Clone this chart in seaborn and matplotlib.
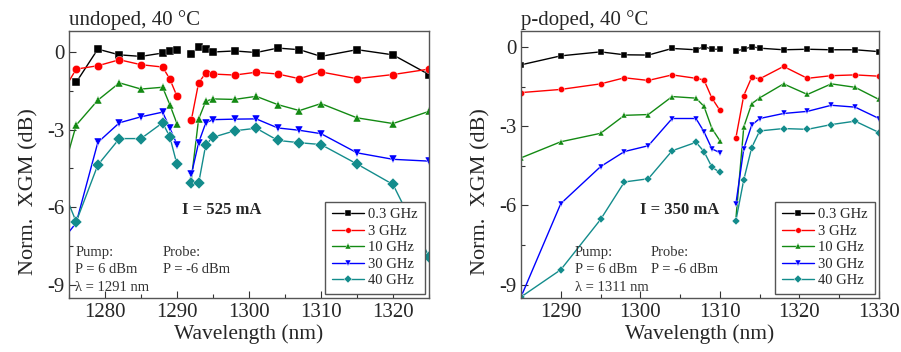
import numpy as np
import pandas as pd
import matplotlib
matplotlib.use("Agg")
import matplotlib.pyplot as plt
import seaborn as sns
from matplotlib.ticker import MultipleLocator

# ---------------- data ----------------
freqs = ["0.3 GHz", "3 GHz", "10 GHz", "30 GHz", "40 GHz"]

# undoped, 40 C  (segment 1 below pump, segment 2 above pump)
u_x1_black = [1276, 1279, 1282, 1285, 1288, 1289, 1290]
u_x1 = [1274, 1276, 1279, 1282, 1285, 1288, 1289, 1290]
u_x2 = [1292, 1293, 1294, 1295, 1298, 1301, 1304, 1307, 1310, 1315, 1320, 1325]
u_black1 = [-1.18, 0.10, -0.12, -0.18, -0.05, 0.04, 0.05]
u_black2 = [-0.08, 0.18, 0.11, -0.01, 0.03, -0.03, 0.14, 0.08, -0.18, 0.08, -0.12, -0.88]
u_red1 = [-1.60, -0.67, -0.54, -0.31, -0.50, -0.59, -1.05, -1.72]
u_red2 = [-2.62, -1.20, -0.82, -0.86, -0.90, -0.79, -0.86, -1.04, -0.78, -1.04, -0.88, -0.67]
u_green1 = [-4.80, -2.83, -1.87, -1.20, -1.44, -1.37, -2.04, -2.78]
u_green2 = [-4.90, -2.60, -1.91, -1.82, -1.84, -1.72, -2.04, -2.27, -2.00, -2.55, -2.77, -2.30]
u_blue1 = [-7.30, -6.60, -3.50, -2.74, -2.51, -2.33, -2.94, -3.58]
u_blue2 = [-4.73, -3.51, -2.74, -2.62, -2.60, -2.59, -2.94, -3.03, -3.16, -3.90, -4.15, -4.22]
u_teal1 = [-5.20, -6.56, -4.37, -3.35, -3.35, -2.74, -3.28, -4.35]
u_teal2 = [-5.08, -5.08, -3.58, -3.30, -3.05, -2.95, -3.42, -3.51, -3.58, -4.33, -5.12, -7.90]

# p-doped, 40 C
p_x1 = [1285, 1290, 1295, 1298, 1301, 1304, 1307, 1308, 1309, 1310]
p_x2 = [1312, 1313, 1314, 1315, 1318, 1321, 1324, 1327, 1330]
p_black1 = [-0.68, -0.34, -0.19, -0.30, -0.31, -0.06, -0.11, 0.01, -0.09, -0.09]
p_black2 = [-0.15, -0.09, 0.01, -0.05, -0.11, -0.09, -0.11, -0.11, -0.18]
p_red1 = [-1.73, -1.61, -1.40, -1.17, -1.27, -1.06, -1.19, -1.25, -1.94, -2.40]
p_red2 = [-3.46, -1.84, -1.15, -1.21, -0.74, -1.19, -1.09, -1.06, -1.11]
p_green1 = [-4.20, -3.59, -3.27, -2.59, -2.56, -1.88, -1.94, -2.25, -3.09, -3.55]
p_green2 = [-6.55, -3.03, -2.15, -1.93, -1.40, -1.80, -1.40, -1.53, -1.99]
p_blue1 = [-9.46, -5.93, -4.53, -3.96, -3.74, -2.71, -2.71, -3.21, -3.86, -4.00]
p_blue2 = [-5.96, -3.86, -2.96, -2.71, -2.52, -2.44, -2.21, -2.28, -2.71]
p_teal1 = [-9.46, -8.43, -6.53, -5.11, -4.99, -3.93, -3.61, -3.96, -4.55, -4.75]
p_teal2 = [-6.59, -5.03, -3.81, -3.18, -3.09, -3.12, -2.94, -2.81, -3.24]

colors = ["#000000", "#ff0000", "#138a13", "#0000ff", "#138c8c"]
markers = ["s", "o", "^", "v", "D"]


def build(series):
    rows = []
    for f, segs in zip(freqs, series):
        for si, (xs, ys) in enumerate(segs):
            for x, y in zip(xs, ys):
                rows.append({"wl": x, "xgm": y, "freq": f, "seg": si})
    return pd.DataFrame(rows)


df_u = build([
    [(u_x1_black, u_black1), (u_x2, u_black2)],
    [(u_x1, u_red1), (u_x2, u_red2)],
    [(u_x1, u_green1), (u_x2, u_green2)],
    [(u_x1, u_blue1), (u_x2, u_blue2)],
    [(u_x1, u_teal1), (u_x2, u_teal2)],
])
df_p = build([
    [(p_x1, p_black1), (p_x2, p_black2)],
    [(p_x1, p_red1), (p_x2, p_red2)],
    [(p_x1, p_green1), (p_x2, p_green2)],
    [(p_x1, p_blue1), (p_x2, p_blue2)],
    [(p_x1, p_teal1), (p_x2, p_teal2)],
])

# ---------------- style ----------------
sns.set_theme(style="ticks")
plt.rcParams["font.family"] = ["Liberation Serif", "DejaVu Serif"]

fig = plt.figure(figsize=(9.01, 3.52), dpi=100)
ax1 = fig.add_axes([69 / 901, 1 - 298 / 352, 360 / 901, 267 / 352])
ax2 = fig.add_axes([521 / 901, 1 - 298 / 352, 358 / 901, 267 / 352])

pal = dict(zip(freqs, colors))
mk = dict(zip(freqs, markers))


def draw(ax, df, ms, xlim, ylim, xticks, title, ylab_x):
    sns.lineplot(data=df, x="wl", y="xgm", hue="freq", style="freq",
                 units="seg", estimator=None, sort=True,
                 hue_order=freqs, style_order=freqs,
                 palette=pal, markers=mk, dashes=False,
                 markersize=ms, markeredgewidth=0.3, linewidth=1.0, ax=ax)
    ax.set_xlim(*xlim)
    ax.set_ylim(*ylim)
    ax.set_xticks(xticks)
    ax.set_yticks([0, -3, -6, -9])
    ax.set_yticklabels(["0", "-3", "-6", "-9"])
    ax.xaxis.set_minor_locator(MultipleLocator(5))
    ax.yaxis.set_minor_locator(MultipleLocator(1.5))
    ax.tick_params(which="both", direction="in", labelsize=15, color="#333333")
    ax.tick_params(which="major", length=5, width=0.8)
    ax.tick_params(which="minor", length=3, width=0.8)
    for s in ax.spines.values():
        s.set_visible(True)
        s.set_color("#555555")
        s.set_linewidth(1.0)
    ax.set_xlabel("Wavelength (nm)", fontsize=15.5, labelpad=2)
    ax.set_ylabel("Norm.  XGM (dB)", fontsize=16)
    ax.yaxis.set_label_coords(ylab_x, 0.40)
    ax.set_title(title, loc="left", fontsize=15, pad=4)
    handles, labels = ax.get_legend_handles_labels()
    leg = ax.legend(handles, labels, loc="lower right", fontsize=10.5,
                    frameon=True, fancybox=False, edgecolor="#555555",
                    framealpha=1, handlelength=2.2, handletextpad=0.3,
                    labelspacing=0.22, borderpad=0.45, borderaxespad=0.3)
    for h in leg.legend_handles:
        h.set_markersize(4)
    return ax


draw(ax1, df_u, 6.0, (1275, 1325), (-9.5, 0.8), [1280, 1290, 1300, 1310, 1320],
     "undoped, 40 °C", -0.085)
draw(ax2, df_p, 4.5, (1285, 1330), (-9.5, 0.6), [1290, 1300, 1310, 1320, 1330],
     "p-doped, 40 °C", -0.085)

# annotations
tc = "#333333"
ax1.text(0.314, 0.33, "I = 525 mA", transform=ax1.transAxes, fontsize=12,
         fontweight="bold", va="center", ha="left")
ax1.text(0.017, 0.172, "Pump:", transform=ax1.transAxes, fontsize=10.5, va="center", color=tc)
ax1.text(0.017, 0.107, "P = 6 dBm", transform=ax1.transAxes, fontsize=10.5, va="center", color=tc)
ax1.text(0.017, 0.040, "λ = 1291 nm", transform=ax1.transAxes, fontsize=10.5, va="center", color=tc)
ax1.text(0.261, 0.172, "Probe:", transform=ax1.transAxes, fontsize=10.5, va="center", color=tc)
ax1.text(0.261, 0.107, "P = -6 dBm", transform=ax1.transAxes, fontsize=10.5, va="center", color=tc)

ax2.text(0.332, 0.33, "I = 350 mA", transform=ax2.transAxes, fontsize=12,
         fontweight="bold", va="center", ha="left")
ax2.text(0.151, 0.172, "Pump:", transform=ax2.transAxes, fontsize=10.5, va="center", color=tc)
ax2.text(0.151, 0.107, "P = 6 dBm", transform=ax2.transAxes, fontsize=10.5, va="center", color=tc)
ax2.text(0.151, 0.040, "λ = 1311 nm", transform=ax2.transAxes, fontsize=10.5, va="center", color=tc)
ax2.text(0.363, 0.172, "Probe:", transform=ax2.transAxes, fontsize=10.5, va="center", color=tc)
ax2.text(0.363, 0.107, "P = -6 dBm", transform=ax2.transAxes, fontsize=10.5, va="center", color=tc)

fig.savefig("out.png", dpi=100)
